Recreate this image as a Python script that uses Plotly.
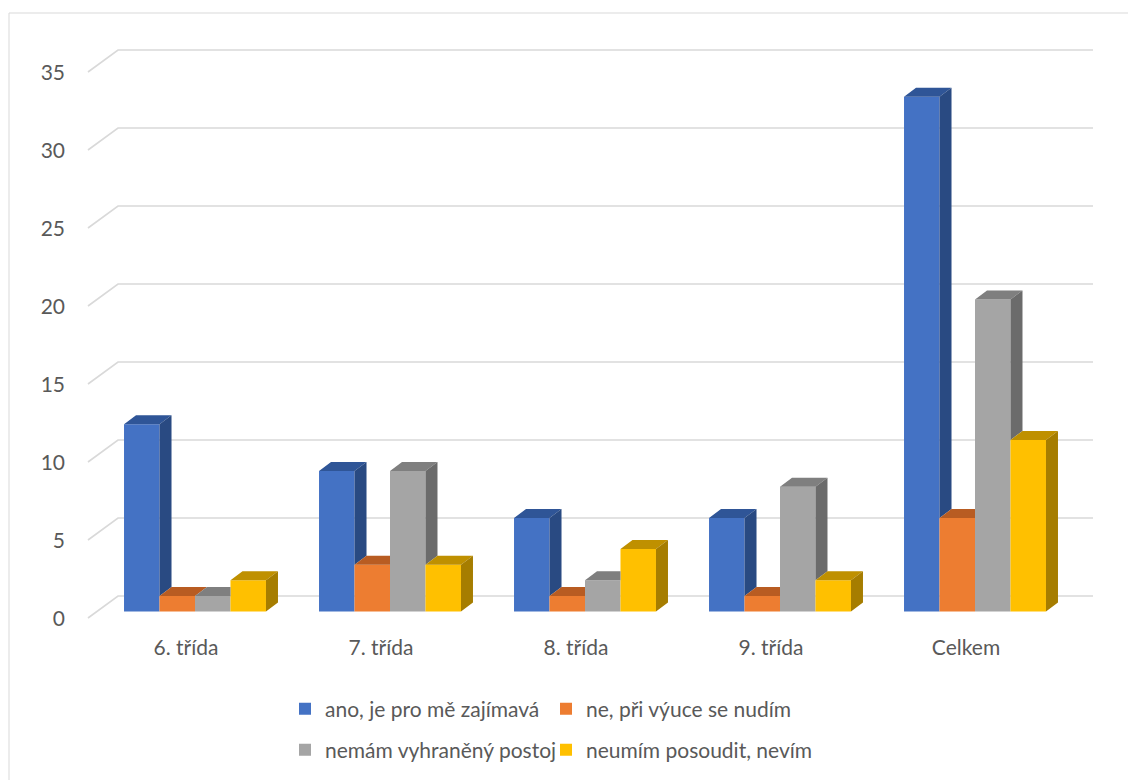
import plotly.graph_objects as go

categories = ["6. třída", "7. třída", "8. třída", "9. třída", "Celkem"]
series_names = ["ano, je pro mě zajímavá", "ne, při výuce se nudím",
                "nemám vyhraněný postoj", "neumím posoudit, nevím"]
ano = [12, 9, 6, 6, 33]
ne = [1, 3, 1, 1, 6]
nemam = [1, 9, 2, 8, 20]
neumim = [2, 3, 4, 2, 11]
y_ticks = [0, 5, 10, 15, 20, 25, 30, 35]

series = [ano, ne, nemam, neumim]
front_colors = ["#4472C4", "#ED7D31", "#A5A5A5", "#FFC000"]
top_colors = ["#2F5597", "#B85C22", "#7F7F7F", "#BF9000"]
side_colors = ["#294A82", "#A8541E", "#6B6B6B", "#A67D00"]

W, H = 1128, 780
ML, MR, MT, MB = 80, 20, 30, 150
PX_CAT = 195.0          # pixels per category
X0_PX = 195.0           # pixel of category 0 centre (bar plane)
PX_VAL = 15.6           # pixels per unit value
Y0_PX = 611.5           # pixel of value 0 (bar plane)

def px_to_x(px):
    return (px - X0_PX) / PX_CAT

def py_to_v(py):
    return (Y0_PX - py) / PX_VAL

x_range = [px_to_x(ML), px_to_x(W - MR)]
y_range = [py_to_v(H - MB), py_to_v(MT)]

bargap = 0.272
nser = len(series)
bw = (1 - bargap) / nser
dx = 12 / PX_CAT
dy = 9 / PX_VAL

legend_ids = ["legend", "legend2", "legend3", "legend4"]

fig = go.Figure()
idx = list(range(len(categories)))
for k, vals in enumerate(series):
    fig.add_trace(go.Bar(
        x=idx, y=vals, name=series_names[k],
        marker=dict(color=front_colors[k], line=dict(width=0)),
        legend=legend_ids[k],
    ))

# top and side faces (3D look) from the same values
for k, vals in enumerate(series):
    tx, ty, sx, sy = [], [], [], []
    for i, h in enumerate(vals):
        L = i - (1 - bargap) / 2 + k * bw
        R = L + bw
        nxt = series[k + 1][i] if k + 1 < nser else 0
        if nxt > h:
            tx += [L, R, R, L + dx, L, None]
            ty += [h, h, h + dy, h + dy, h, None]
        else:
            tx += [L, R, R + dx, L + dx, L, None]
            ty += [h, h, h + dy, h + dy, h, None]
        if h > nxt:
            sx += [R, R + dx, R + dx, R, R, None]
            sy += [nxt, nxt + dy, h + dy, h, nxt, None]
    fig.add_trace(go.Scatter(x=tx, y=ty, mode="lines", fill="toself",
                             fillcolor=top_colors[k], line=dict(width=0),
                             showlegend=False, hoverinfo="skip"))
    if sx:
        fig.add_trace(go.Scatter(x=sx, y=sy, mode="lines", fill="toself",
                                 fillcolor=side_colors[k], line=dict(width=0),
                                 showlegend=False, hoverinfo="skip"))

# slanted gridlines (front edge -> back wall)
xf, yf = px_to_x(88), (Y0_PX - 618) / PX_VAL
xb, yb = px_to_x(118), (Y0_PX - 596) / PX_VAL
xe = px_to_x(1093)
shapes = []
for v in y_ticks:
    shapes.append(dict(
        type="path", xref="x", yref="y", layer="below",
        path=f"M {xf},{v + yf} L {xb},{v + yb} L {xe},{v + yb}",
        line=dict(color="#D9D9D9", width=1.6)))

# chart border
def pxx(px):
    return (px - ML) / (W - ML - MR)

def pyy(py):
    return (H - MB - py) / (H - MT - MB)

shapes.append(dict(type="rect", xref="paper", yref="paper",
                   x0=pxx(9), y0=pyy(H + 20), x1=pxx(W + 20), y1=pyy(13),
                   line=dict(color="#D9D9D9", width=1), layer="below"))

font_fam = "Lato, Carlito, sans-serif"
txt_col = "#595959"

legend_pos = [(285, 709), (546, 709), (285, 750), (546, 750)]
legends = {}
for lid, (lx, ly) in zip(legend_ids, legend_pos):
    legends[lid] = dict(orientation="h", xref="container", yref="container",
                        x=lx / W, y=1 - ly / H, xanchor="left",
                        yanchor="middle", itemwidth=30,
                        font=dict(family=font_fam, size=21, color=txt_col),
                        bgcolor="rgba(0,0,0,0)")

fig.update_layout(
    width=W, height=H,
    margin=dict(l=ML, r=MR, t=MT, b=MB),
    paper_bgcolor="white", plot_bgcolor="white",
    barmode="group", bargap=bargap, bargroupgap=0,
    shapes=shapes,
    font=dict(family=font_fam, size=21, color=txt_col),
    xaxis=dict(range=x_range, tickvals=idx, ticktext=categories,
               showgrid=False, zeroline=False, showline=False, ticks="",
               ticklabelshift=-9, ticklabelstandoff=3,
               tickfont=dict(family=font_fam, size=21, color=txt_col)),
    yaxis=dict(range=y_range, tickvals=y_ticks, showgrid=False,
               zeroline=False, showline=False, ticks="",
               ticklabelshift=7, ticklabelstandoff=14,
               tickfont=dict(family=font_fam, size=21, color=txt_col)),
    showlegend=True,
    **legends,
)

fig.write_html("out.html", config={"displayModeBar": False},
               post_script="document.body.style.margin='0';")
